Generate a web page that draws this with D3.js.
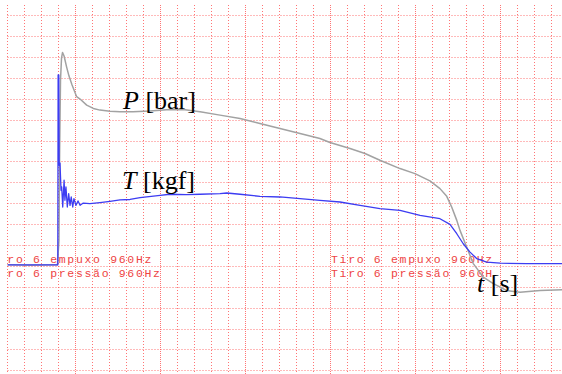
<!DOCTYPE html>
<html>
<head>
<meta charset="utf-8">
<script src="https://cdn.jsdelivr.net/npm/d3@7/dist/d3.min.js"></script>
<style>
  html, body { margin: 0; padding: 0; background: #fff; }
  svg { display: block; }
</style>
</head>
<body>
<svg id="chart" width="562" height="374"></svg>
<script>
// Time in grid divisions (0 = ignition), values in grid divisions above zero.
const pressureTime = [-3, -1.66, -0.05, 0.04, 0.08, 0.13, 0.19, 0.25, 0.34, 0.49, 0.63, 0.81, 1.08, 1.28, 1.67, 2.06, 2.45, 3.04, 3.63, 4.39, 5.39, 6.57, 7.45, 8.34, 9.51, 10.69, 11.86, 13.04, 14.22, 15.39, 15.98, 17.16, 18.04, 18.92, 20.10, 20.98, 21.86, 22.45, 22.85, 23.14, 23.44, 23.63, 24.02, 24.41, 25.00, 25.59, 26.38, 27.16, 28.34, 29.64];
const pressureValue = [0.05, 0.03, 0.05, 1.22, 5.54, 8.90, 9.95, 10.22, 10.05, 9.52, 9.09, 8.66, 8.10, 7.99, 7.70, 7.54, 7.46, 7.40, 7.38, 7.38, 7.42, 7.49, 7.48, 7.38, 7.22, 7.06, 6.82, 6.58, 6.34, 6.10, 5.91, 5.62, 5.38, 5.06, 4.66, 4.42, 4.07, 3.70, 3.33, 2.82, 2.18, 1.70, 0.90, 0.11, -0.54, -0.85, -1.18, -1.26, -1.18, -1.14];

const thrustTime = [-3, -0.03, -0.01, 0.03, 0.05, 0.10, 0.16, 0.20, 0.26, 0.34, 0.39, 0.45, 0.53, 0.61, 0.69, 0.76, 0.85, 0.92, 1.04, 1.16, 1.28, 1.47, 1.86, 2.45, 3.04, 3.63, 4.22, 4.81, 5.99, 6.57, 7.55, 8.34, 9.51, 9.91, 10.69, 11.86, 13.04, 14.22, 15.39, 16.57, 17.75, 18.92, 20.10, 21.28, 22.45, 23.04, 23.44, 23.82, 24.22, 24.61, 25.20, 25.99, 27.55, 29.64];
const thrustValue = [0.05, 0.05, 9.14, 9.14, 4.82, 4.92, 3.62, 3.78, 2.82, 4.10, 3.14, 3.78, 2.82, 3.46, 2.90, 3.30, 2.82, 3.22, 2.90, 3.11, 2.90, 3.01, 2.98, 3.03, 3.09, 3.16, 3.18, 3.27, 3.38, 3.43, 3.41, 3.43, 3.46, 3.49, 3.43, 3.33, 3.30, 3.22, 3.14, 3.06, 2.90, 2.74, 2.66, 2.42, 2.26, 1.99, 1.54, 1.06, 0.66, 0.35, 0.18, 0.13, 0.11, 0.11];

const gridTimes = d3.range(-3, 30);   // vertical grid lines
const gridValues = d3.range(-5, 13);  // horizontal grid lines
const channelNames = ["Tiro 6 empuxo 960Hz", "Tiro 6 pressão 960Hz"];

const svg = d3.select("#chart");
const W = 562, H = 374;

const x = d3.scaleLinear().domain([-3, 30]).range([7.3, 568.3]);
const y = d3.scaleLinear().domain([12, -5]).range([15.3, 370.3]);
const px = v => Math.round(v) + 0.5;
const isMajor = d => (d + 3) % 5 === 4;

// Dotted recorder grid
const grid = svg.append("g");
grid.selectAll("line.h").data(gridValues).join("line")
  .attr("class", "h")
  .attr("x1", px(x(-3))).attr("x2", W)
  .attr("y1", d => px(y(d))).attr("y2", d => px(y(d)))
  .attr("stroke", "#ff4545").attr("stroke-width", 1)
  .attr("stroke-dasharray", "1,2").attr("stroke-opacity", 0.75);
grid.selectAll("line.v").data(gridTimes).join("line")
  .attr("class", "v")
  .attr("x1", d => px(x(d))).attr("x2", d => px(x(d)))
  .attr("y1", 5).attr("y2", H)
  .attr("stroke", "#ff4545").attr("stroke-width", 1)
  .attr("stroke-dasharray", d => isMajor(d) ? "1,1" : "1,2")
  .attr("stroke-opacity", 0.75);

svg.append("defs").call(defs => {
  defs.append("clipPath").attr("id", "plotClip")
    .append("rect").attr("x", px(x(-3))).attr("y", 0).attr("width", W).attr("height", H);
  defs.append("clipPath").attr("id", "rightClip")
    .append("rect").attr("x", 0).attr("y", 0).attr("width", 494).attr("height", H);
});

// Channel captions
const captionStyle = sel => sel
  .attr("font-family", "'Liberation Mono', 'DejaVu Sans Mono', monospace")
  .attr("font-size", 11.5)
  .attr("letter-spacing", "1.67px")
  .attr("fill", "#ee4444");

const leftCaps = svg.append("g").attr("clip-path", "url(#plotClip)");
leftCaps.selectAll("text").data(channelNames).join("text")
  .attr("x", -9.8).attr("y", (d, i) => 262.5 + i * 14.5)
  .text(d => d).call(captionStyle);

const rightCaps = svg.append("g").attr("clip-path", "url(#rightClip)");
rightCaps.selectAll("text").data(channelNames).join("text")
  .attr("x", 331).attr("y", (d, i) => 262.5 + i * 14.5)
  .text(d => d).call(captionStyle);

// Traces
const pressure = pressureTime.map((t, i) => [t, pressureValue[i]]);
const thrust = thrustTime.map((t, i) => [t, thrustValue[i]]);
const line = d3.line().x(d => x(d[0])).y(d => y(d[1]));

const traces = svg.append("g").attr("clip-path", "url(#plotClip)");
traces.append("path").datum(pressure)
  .attr("d", line).attr("fill", "none")
  .attr("stroke", "#a2a2a2").attr("stroke-width", 1.5)
  .attr("stroke-linejoin", "round");
traces.append("path").datum(thrust)
  .attr("d", line).attr("fill", "none")
  .attr("stroke", "#3c3cf2").attr("stroke-width", 1.3)
  .attr("stroke-linejoin", "round");

// Quantity labels
const labels = [
  { sym: "P", unit: "[bar]", x: 123, y: 108.5 },
  { sym: "T", unit: "[kgf]", x: 122, y: 188.5 },
  { sym: "t", unit: "[s]", x: 477, y: 291.5 }
];
const lab = svg.append("g")
  .attr("font-family", "'Liberation Serif', 'Times New Roman', serif")
  .attr("font-size", 26).attr("fill", "#000");
labels.forEach(l => {
  const t = lab.append("text").attr("x", l.x).attr("y", l.y);
  t.append("tspan").attr("font-style", "italic").text(l.sym);
  t.append("tspan").text(" " + l.unit);
});
</script>
</body>
</html>
